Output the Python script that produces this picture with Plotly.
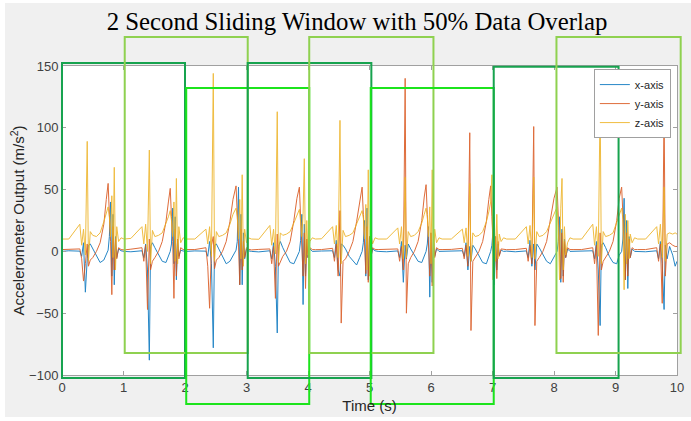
import plotly.graph_objects as go

# ---------------- data ----------------
time_s = [
    0.00,
    0.11, 0.29, 0.32, 0.35, 0.38, 0.41, 0.43, 0.46, 0.50, 0.56, 0.62, 0.68, 0.72, 0.75, 0.77, 0.79, 0.81, 0.83, 0.85, 0.87, 0.89, 0.92, 0.96, 1.01,
    1.12, 1.30, 1.33, 1.36, 1.39, 1.42, 1.44, 1.47, 1.51, 1.57, 1.63, 1.69, 1.73, 1.76, 1.78, 1.80, 1.82, 1.84, 1.86, 1.88, 1.90, 1.93, 1.97, 2.02,
    2.16, 2.34, 2.37, 2.40, 2.43, 2.46, 2.48, 2.51, 2.55, 2.61, 2.67, 2.73, 2.78, 2.83, 2.85, 2.87, 2.89, 2.91, 2.93, 2.95, 2.97, 3.00, 3.03, 3.08,
    3.20, 3.38, 3.41, 3.44, 3.47, 3.50, 3.52, 3.55, 3.59, 3.65, 3.71, 3.77, 3.82, 3.86, 3.88, 3.90, 3.92, 3.94, 3.96, 3.98, 4.00, 4.03, 4.07, 4.12,
    4.22, 4.40, 4.43, 4.46, 4.49, 4.52, 4.54, 4.57, 4.61, 4.67, 4.73, 4.79, 4.84, 4.88, 4.90, 4.92, 4.94, 4.96, 4.98, 5.00, 5.02, 5.05, 5.09, 5.14,
    5.28, 5.46, 5.49, 5.52, 5.55, 5.58, 5.60, 5.63, 5.67, 5.73, 5.79, 5.85, 5.89, 5.92, 5.94, 5.96, 5.98, 6.00, 6.02, 6.04, 6.06, 6.09, 6.13, 6.18,
    6.33, 6.51, 6.54, 6.57, 6.60, 6.63, 6.65, 6.68, 6.72, 6.78, 6.84, 6.90, 6.94, 6.97, 6.99, 7.01, 7.03, 7.05, 7.07, 7.09, 7.11, 7.14, 7.18, 7.23,
    7.37, 7.55, 7.58, 7.61, 7.64, 7.67, 7.69, 7.72, 7.76, 7.82, 7.88, 7.94, 8.00, 8.05, 8.07, 8.09, 8.11, 8.13, 8.15, 8.17, 8.19, 8.22, 8.26, 8.31,
    8.45, 8.63, 8.66, 8.69, 8.72, 8.75, 8.77, 8.80, 8.84, 8.90, 8.96, 9.02, 9.06, 9.10, 9.12, 9.14, 9.16, 9.18, 9.20, 9.22, 9.24, 9.27, 9.31, 9.36,
    9.49, 9.67, 9.70, 9.73, 9.76, 9.79, 9.81, 9.84, 9.88, 9.93, 9.97, 10.00,
]

x_axis = [
    0.0,
    0.5, 0.2, -4, 7, -33, -6, 5, 6, 2, -4, -9, -7, -2, 1, 12, 40, -20, 30, -27, 12, -5, 2, 0.5, 0.0,
    -0.3, 0.5, -5, 6, -15, -88, 4, 7, 3, -3, -8, -9, -4, 0, 6, 35, -10, 28, -23, 10, -4, 1, 0.3, 0.0,
    0.4, 0.2, -4, 8, -10, -78, 5, 6, 2, -4, -10, -8, -3, 1, 8, 52, -27, 30, -27, 15, -6, 2, 0.5, 0.0,
    -0.4, 0.5, -6, 7, -12, -66, 4, 8, 3, -3, -9, -10, -4, 0, 9, 30, -43, 22, -20, 10, -5, 2, 0.0, 0.3,
    0.3, 0.5, -5, 9, -15, -20, 6, 5, 2, -4, -8, -11, -5, 0, 7, 25, -20, 35, -23, 12, -5, 2, 0.5, 0.0,
    -0.3, 0.4, -5, 8, -25, 5, -6, 6, 2, -3, -8, -9, -3, 0, 6, 20, -37, 15, -25, 8, -4, 2, 0.0, 0.0,
    0.3, 0.5, -4, 7, -15, 4, -8, 5, 2, -4, -9, -10, -4, 0, 5, 18, -27, 12, -15, 6, -3, 1, 0.0, 0.2,
    -0.3, 0.4, -5, 9, -12, 6, -15, 6, 3, -3, -8, -10, -4, 0, 8, 28, -25, 18, -20, 10, -5, 2, 0.0, 0.0,
    0.3, 0.5, -6, 8, -15, -60, 5, 7, 3, -4, -9, -10, -3, 0, 10, 43, -23, 25, -30, 12, -5, 2, 0.0, 0.0,
    -0.3, 0.5, -6, 8, -10, -47, 5, -6, 4, -3, -12, -8,
]

y_axis = [
    1.5,
    1.5, 2, -6, -24, -10, 6, -12, -7, -5, 0, 7, 22, 42, 55, 30, 8, -35, 20, -15, 10, -6, 3, 1.5, 1.2,
    1.8, 3, -8, 5, -47, 10, -15, -8, -5, 0, 8, 24, 40, 51, 28, 8, -38, 18, -20, 10, -6, 3, 1.5, 1.5,
    1.5, 3, -12, -46, 5, 12, -14, -7, -5, 0, 8, 24, 42, 53, 32, 6, -27, 18, -15, 8, -5, 3, 1.8, 1.2,
    1.6, 2, -10, 4, -38, 14, -12, -8, -4, 0, 8, 25, 43, 52, 28, 5, -20, 15, -30, 10, -5, 3, 1.5, 1.4,
    1.5, 2.5, -8, 6, -20, 33, -58, -8, -6, 0, 8, 24, 41, 52, 30, 8, -18, 20, -25, 12, -6, 3, 1.6, 1.5,
    1.5, 2, -8, 4, -15, 140, -50, -10, -5, 0, 8, 25, 44, 54, 30, 6, -20, 15, -28, 10, -5, 3, 1.5, 1.5,
    1.6, 2.5, -6, 5, -12, 96, -64, -8, -5, 0, 8, 24, 42, 53, 28, 5, -18, 12, -22, 8, -4, 2, 1.5, 1.4,
    1.5, 2.5, -8, 5, -10, 101, -60, -8, -5, 0, 8, 24, 43, 52, 30, 8, -22, 15, -25, 8, -5, 3, 1.5, 1.5,
    1.5, 3, -10, 5, -68, 15, -15, -8, -5, 0, 8, 25, 43, 52, 30, 6, -23, 15, -20, 10, -5, 3, 1.5, 1.5,
    1.5, 3, -8, 6, -42, 117, -20, 6, 7, 5, 4, 4,
]

z_axis = [
    10,
    10, 22, 5, 18, -3, 89, -8, 16, 13, 12, 15, 24, 31, 36, 28, 12, 45, -5, 68, -15, 20, 8, 11, 10,
    10.5, 20, 6, 22, 0, 82, -10, 17, 12, 13, 15, 22, 28, 33, 25, 12, 40, -8, 59, -10, 20, 7, 11, 10,
    10, 18, 6, 20, -4, 144, -8, 16, 12, 13, 15, 22, 30, 35, 28, 10, 42, -6, 62, -12, 18, 7, 11, 10,
    9.8, 21, 5, 18, -2, 113, -9, 15, 13, 14, 16, 23, 29, 34, 24, 12, 30, 75, -10, 25, -3, 8, 11, 10,
    10.2, 20, 6, 21, -5, 106, -10, 17, 12, 13, 15, 22, 28, 33, 27, 10, 38, -15, 66, -20, 15, 6, 11, 10,
    10, 19, 6, 20, -6, 60, -5, 16, 12, 13, 16, 23, 30, 35, 28, 12, 36, -10, 66, -25, 18, 7, 11, 10,
    10, 18, 7, 19, -4, 55, -8, 15, 12, 13, 16, 24, 32, 40, 62, -23, 28, -8, 30, -6, 14, 8, 11, 10,
    10, 20, 6, 21, -5, 60, -6, 16, 12, 13, 16, 23, 30, 36, 20, -23, 35, 59, -15, 20, -3, 7, 11, 10,
    10, 22, 5, 20, -4, 123, -10, 16, 12, 13, 15, 23, 30, 35, 26, -31, 30, -10, 25, -6, 14, 7, 11, 10,
    10, 20, 6, 22, -5, 52, -8, 14, 15, 14, 15, 14,
]

series_names = ["x-axis", "y-axis", "z-axis"]
series_colors = ["#0072BD", "#D95319", "#EDB120"]

x_ticks = [0, 1, 2, 3, 4, 5, 6, 7, 8, 9, 10]
y_ticks = [-100, -50, 0, 50, 100, 150]
x_range = [0, 10]
y_range = [-100, 150]

# sliding windows (seconds, acceleration levels)
win_start = [0, 1.02, 2.02, 3.02, 4.02, 5.02, 7.02, 8.04]
win_end = [2.0, 3.02, 4.02, 5.03, 6.04, 7.02, 9.05, 10.06]
win_top = [152.4, 173.5, 132.2, 152.4, 173.5, 132.2, 149.3, 173.5]
win_bottom = [-102.4, -82.1, -123.4, -102.4, -82.1, -123.4, -102.4, -82.1]
win_kind = ["dark", "light", "bright", "dark", "light", "bright", "dark", "light"]
win_colors = {"dark": "#17A34F", "light": "#8FD150", "bright": "#1CE41C"}

assert len(time_s) == len(x_axis) == len(y_axis) == len(z_axis), (
    len(time_s), len(x_axis), len(y_axis), len(z_axis))

# ---------------- figure ----------------
W, H = 691, 421
ML, MR, MT, MB = 62, 14, 66, 46
PW, PH = W - ML - MR, H - MT - MB


def xp(v):
    return (v - x_range[0]) / (x_range[1] - x_range[0])


def yp(v):
    return (v - y_range[0]) / (y_range[1] - y_range[0])


def px_to_paper_x(px):
    return (px - ML) / PW


def px_to_paper_y(py):
    return (H - MB - py) / PH


fig = go.Figure()
for name, vals, col in zip(series_names, [x_axis, y_axis, z_axis], series_colors):
    fig.add_trace(go.Scatter(x=time_s, y=vals, mode="lines", name=name, opacity=0.85,
                             line=dict(color=col, width=1)))

shapes = []
# white outer frame strips (figure border)
for (a, b, c, d) in [(0, 0, 5, H), (0, 0, W, 3), (0, 417, W, H)]:
    shapes.append(dict(type="rect", xref="paper", yref="paper",
                       x0=px_to_paper_x(a), x1=px_to_paper_x(c),
                       y0=px_to_paper_y(b), y1=px_to_paper_y(d),
                       fillcolor="white", line=dict(width=0), layer="below"))

for s, e, tp, bt, k in zip(win_start, win_end, win_top, win_bottom, win_kind):
    shapes.append(dict(type="rect", xref="paper", yref="paper",
                       x0=xp(s), x1=xp(e), y0=yp(bt), y1=yp(tp),
                       line=dict(color=win_colors[k], width=2),
                       fillcolor="rgba(0,0,0,0)", layer="above"))

axis_common = dict(ticks="inside", ticklen=4, tickwidth=1, tickcolor="#a0a0a0",
                   showline=True, linecolor="#a0a0a0", linewidth=1, mirror="ticks",
                   showgrid=False, zeroline=False, automargin=False,
                   tickfont=dict(family="Arial, Liberation Sans", size=13, color="#404040"))

fig.update_layout(
    width=W, height=H,
    margin=dict(l=ML, r=MR, t=MT, b=MB, autoexpand=False),
    paper_bgcolor="#f0f0f0",
    plot_bgcolor="white",
    title=dict(text="2 Second Sliding Window with 50% Data Overlap",
               font=dict(family="Liberation Serif, Times New Roman, serif", size=24.8, color="black"),
               x=357 / W, xanchor="center", xref="container",
               y=1 - 21 / H, yanchor="middle", yref="container", automargin=False),
    xaxis=dict(range=x_range, tickvals=x_ticks, **axis_common,
               title=dict(text="Time (s)", standoff=6,
                          font=dict(family="Arial, Liberation Sans", size=15, color="#262626"))),
    yaxis=dict(range=y_range, tickvals=y_ticks, **axis_common,
               title=dict(text="Accelerometer Output (m/s<sup>2</sup>)", standoff=0,
                          font=dict(family="Arial, Liberation Sans", size=15, color="#262626"))),
    legend=dict(x=xp(9.9), y=yp(147.5), xanchor="right", yanchor="top",
                bgcolor="white", bordercolor="#a0a0a0", borderwidth=1,
                font=dict(family="Arial, Liberation Sans", size=11, color="#262626"),
                tracegroupgap=0),
    shapes=shapes,
    showlegend=True,
)

fig.write_html("out.html", config={"displayModeBar": False},
               post_script="document.body.style.margin='0';document.body.style.padding='0';")
